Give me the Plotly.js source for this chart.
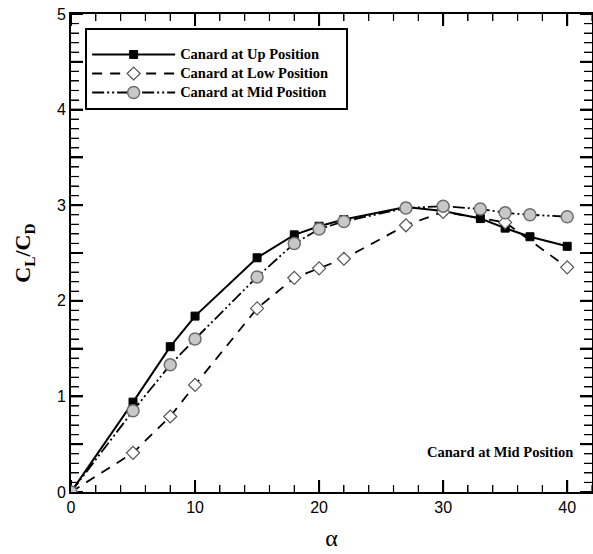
<!DOCTYPE html>
<html>
<head>
<meta charset="utf-8">
<script src="https://cdn.plot.ly/plotly-3.0.1.min.js"></script>
<style>html,body{margin:0;padding:0;background:#fff}#chart{width:593px;height:554px}</style>
</head>
<body>
<div id="chart"></div>
<script>
// Data
const upAlpha = [0, 5, 8, 10, 15, 18, 20, 22, 27, 30, 33, 35, 37, 40];
const upRatio = [0, 0.94, 1.52, 1.84, 2.45, 2.69, 2.78, 2.85, 2.98, 2.94, 2.86, 2.76, 2.67, 2.57];

const lowAlpha = [0, 5, 8, 10, 15, 18, 20, 22, 27, 30, 35, 40];
const lowRatio = [0, 0.41, 0.79, 1.12, 1.92, 2.24, 2.34, 2.44, 2.79, 2.93, 2.82, 2.35];

const midAlpha = [0, 5, 8, 10, 15, 18, 20, 22, 27, 30, 33, 35, 37, 40];
const midRatio = [0, 0.85, 1.33, 1.60, 2.25, 2.60, 2.75, 2.83, 2.97, 2.99, 2.96, 2.92, 2.90, 2.88];

const seriesNames = ["Canard at Up Position", "Canard at Low Position", "Canard at Mid Position"];
const annotationText = "Canard at Mid Position";

// tick positions (axis furniture)
const xMajorTicks = [0, 10, 20, 30, 40];
const yMajorTicks = [0, 0.5, 1, 1.5, 2, 2.5, 3, 3.5, 4, 4.5, 5];
const yTickText = ["0", " ", "1", " ", "2", " ", "3", " ", "4", " ", "5"];
const xMinorStep = 2, yMinorStep = 0.1;
const xMax = 42, yMax = 5;

const W = 593, H = 554, M = {l: 71, r: 1, t: 14, b: 62};
const serif = "Liberation Serif, Times New Roman, serif";
const sans = "Liberation Sans, Arial, sans-serif";
const big = s => "<span style='font-size:14.5px'>" + s + "</span>";

// inward tick marks on all four sides (lengths in px converted to axis units)
const unitX = xMax / (W - M.l - M.r);
const unitY = yMax / (H - M.t - M.b);
function tickPath(xs, ys, len) {
  const px = [], py = [];
  xs.forEach(v => {
    px.push(v, v, null, v, v, null);
    py.push(0, len * unitY, null, yMax, yMax - len * unitY, null);
  });
  ys.forEach(v => {
    px.push(0, len * unitX, null, xMax, xMax - len * unitX, null);
    py.push(v, v, null, v, v, null);
  });
  return {px, py};
}
const xMinorTicks = [], yMinorTicks = [];
for (let i = 0; i * xMinorStep <= xMax + 1e-9; i++) {
  const v = Math.round(i * xMinorStep * 1000) / 1000;
  if (xMajorTicks.indexOf(v) === -1) xMinorTicks.push(v);
}
for (let i = 0; i * yMinorStep <= yMax + 1e-9; i++) {
  const v = Math.round(i * yMinorStep * 1000) / 1000;
  if (yMajorTicks.indexOf(v) === -1) yMinorTicks.push(v);
}
const minorX = tickPath(xMinorTicks, [], 7);
const minorY = tickPath([], yMinorTicks, 8);
const major = tickPath(xMajorTicks, yMajorTicks, 12);

const traces = [
  {x: minorX.px.concat(minorY.px), y: minorX.py.concat(minorY.py), type: "scatter", mode: "lines",
   line: {color: "#000", width: 1.2}, showlegend: false, hoverinfo: "skip", connectgaps: false},
  {x: major.px, y: major.py, type: "scatter", mode: "lines",
   line: {color: "#000", width: 2}, showlegend: false, hoverinfo: "skip", connectgaps: false},
  {
    x: upAlpha, y: upRatio, name: big(seriesNames[0]), type: "scatter", mode: "lines+markers",
    line: {color: "#000", width: 2},
    marker: {symbol: "square", size: 8, color: "#000", line: {color: "#000", width: 1}}
  },
  {
    x: lowAlpha, y: lowRatio, name: big(seriesNames[1]), type: "scatter", mode: "lines+markers",
    line: {color: "#000", width: 1.8, dash: "10px,8px"},
    marker: {symbol: "diamond", size: 10, color: "#fff", line: {color: "#555", width: 1.2}}
  },
  {
    x: midAlpha, y: midRatio, name: big(seriesNames[2]), type: "scatter", mode: "lines+markers",
    line: {color: "#000", width: 1.8, dash: "12px,3px,2px,3px,2px,3px"},
    marker: {symbol: "circle", size: 12, color: "#c8c8c8", line: {color: "#6e6e6e", width: 1.5}}
  }
];

const layout = {
  width: W, height: H,
  margin: M,
  paper_bgcolor: "#fff", plot_bgcolor: "#fff",
  showlegend: true,
  hovermode: false, dragmode: false,
  legend: {
    x: 0.031, y: 0.9456, xanchor: "left", yanchor: "top",
    bgcolor: "rgba(0,0,0,0)", borderwidth: 0,
    font: {family: serif, size: 12, color: "#000", weight: "bold"},
    itemwidth: 83, tracegroupgap: 0
  },
  xaxis: {
    range: [0, xMax], showgrid: false, zeroline: false, fixedrange: true,
    showline: true, linecolor: "#000", linewidth: 2, mirror: "allticks",
    ticks: "inside", ticklen: 12, tickwidth: 2, tickcolor: "#000",
    tickmode: "array", tickvals: xMajorTicks,
    minor: {ticks: "inside", ticklen: 7, tickwidth: 1.2, tickcolor: "#000", tickmode: "array", tickvals: xMinorTicks, showgrid: false},
    tickfont: {family: sans, size: 16, color: "#000"},
    title: {text: "α", font: {family: serif, size: 24, color: "#000"}, standoff: 14}
  },
  yaxis: {
    range: [0, yMax], showgrid: false, zeroline: false, fixedrange: true,
    showline: true, linecolor: "#000", linewidth: 2, mirror: "allticks",
    ticks: "inside", ticklen: 12, tickwidth: 2, tickcolor: "#000",
    tickmode: "array", tickvals: yMajorTicks, ticktext: yTickText,
    minor: {ticks: "inside", ticklen: 8, tickwidth: 1.2, tickcolor: "#000", tickmode: "array", tickvals: yMinorTicks, showgrid: false},
    tickfont: {family: sans, size: 16, color: "#000"},
    title: {text: "C<sub>L</sub>/C<sub>D</sub>", font: {family: serif, size: 22, color: "#000", weight: "bold"}, standoff: 20}
  },
  shapes: [{
    type: "rect", xref: "paper", yref: "paper", layer: "above",
    x0: 0.0288, x1: 0.5298, y0: 0.8013, y1: 0.9686,
    line: {color: "#000", width: 2}, fillcolor: "rgba(0,0,0,0)"
  }],
  annotations: [{
    text: annotationText, xref: "paper", yref: "paper",
    x: 0.967, y: 0.084, xanchor: "right", yanchor: "middle", showarrow: false,
    font: {family: serif, size: 14.5, color: "#000", weight: "bold"}
  }]
};

Plotly.newPlot("chart", traces, layout, {displayModeBar: false});
</script>
</body>
</html>
